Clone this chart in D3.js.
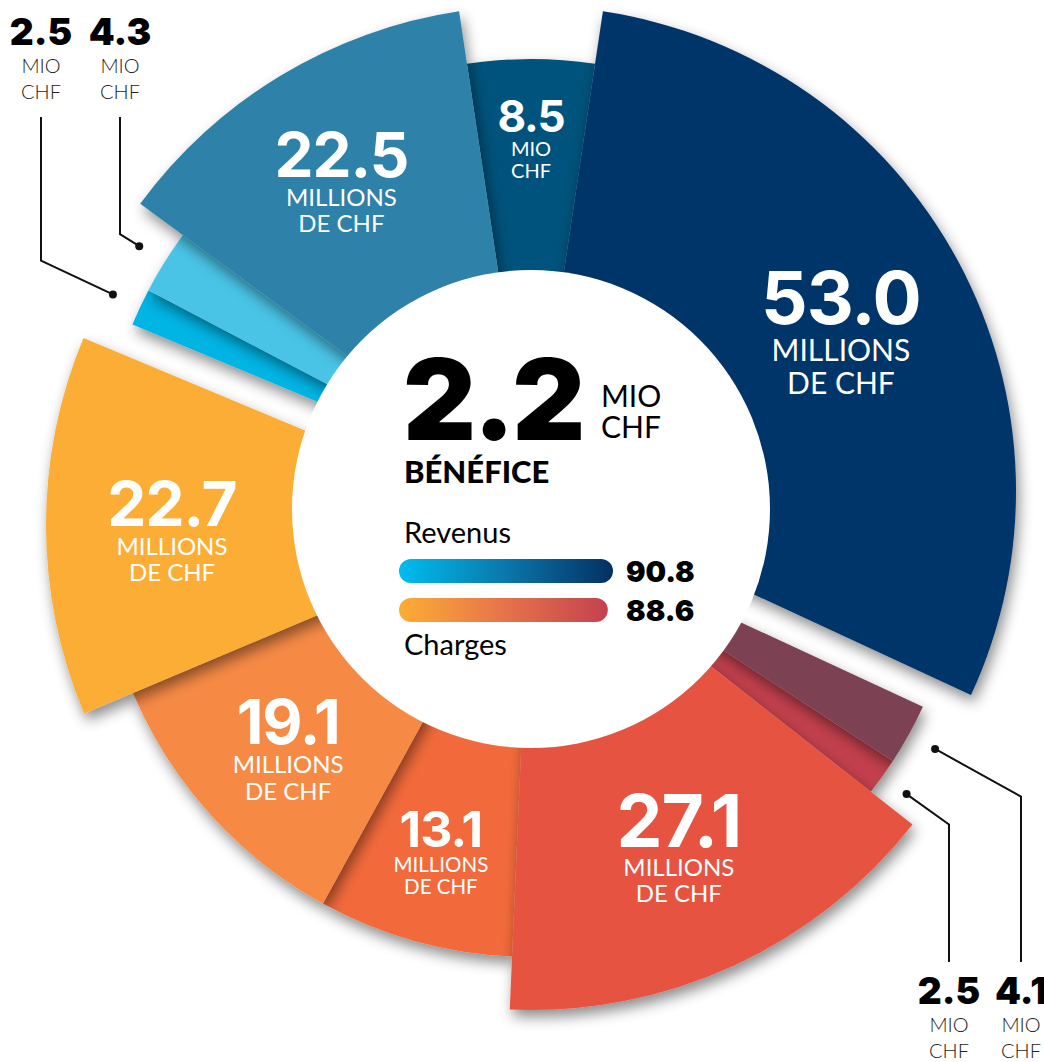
<!DOCTYPE html>
<html>
<head>
<meta charset="utf-8">
<script src="https://cdn.jsdelivr.net/npm/d3@7"></script>
<style>
body { margin: 0; background: #fff; }
svg { display: block; }
</style>
</head>
<body>
<script>
// slices clockwise, starting with the one at 12 o'clock
const values = [8.5, 53.0, 4.1, 2.5, 27.1, 13.1, 19.1, 22.7, 2.5, 4.3, 22.5];
const groups = ["rev", "rev", "chg", "chg", "chg", "chg", "chg", "chg", "rev", "rev", "rev"];
const colors = ["#04527c", "#04356a", "#7b4352", "#c2404d", "#e6533f", "#f26a3a",
                "#f68a45", "#fcad35", "#00b4e4", "#48c4e6", "#2e81a9"];
const totalNames = ["Revenus", "Charges"];
const totals = [90.8, 88.6];
const profit = 2.2;

const W = 1044, H = 1062;
const cx = 531, cy = 509, holeR = 239;
// revenue half pushed up, charges half pushed down
const shift = {rev: -18, chg: 16};
// small slices are labelled outside, at these columns
const calloutX = {2: 1021, 3: 949, 8: 41, 9: 120};
const labelR = [359, 352, 0, 0, 354, 334, 327, 359, 0, 0, 367];

const fontFam = "Lato, 'Open Sans', sans-serif";
const numFam = "Inter, Lato, sans-serif";
const fmt = d3.format(".1f");
const total = d3.sum(values);

let svg = d3.select("body").append("svg")
    .attr("width", W)
    .attr("height", H)
    .attr("viewBox", `0 0 ${W} ${H}`);

let defs = svg.append("defs");
let f = defs.append("filter").attr("id", "shadow")
    .attr("x", "-30%").attr("y", "-30%").attr("width", "160%").attr("height", "160%");
f.append("feDropShadow")
    .attr("dx", 3).attr("dy", 7)
    .attr("stdDeviation", 7)
    .attr("flood-color", "#000")
    .attr("flood-opacity", 0.45);

function barGrad(id, stops) {
    let g = defs.append("linearGradient").attr("id", id)
        .attr("x1", "0%").attr("x2", "100%").attr("y1", "0%").attr("y2", "0%");
    stops.forEach((c, i) => g.append("stop")
        .attr("offset", (i / (stops.length - 1) * 100) + "%")
        .attr("stop-color", c));
}
barGrad("gradRev", ["#00bdf0", "#0a77aa", "#043062"]);
barGrad("gradChg", ["#fcad35", "#e6744a", "#c4414f"]);

// scales
const outerR = d3.scaleThreshold().domain([20]).range([432, 485]);
const numSize = d3.scaleThreshold().domain([10, 15, 25]).range([44, 50, 62, 73]);
const subSize = d3.scaleThreshold().domain([10, 15, 40]).range([20, 20.5, 24, 30]);

const pie = d3.pie()
    .sort(null)
    .value(d => d)
    .startAngle(-values[0] / total * Math.PI)
    .endAngle(2 * Math.PI - values[0] / total * Math.PI);

const arcs = pie(values).map((d, i) => Object.assign(d, {
    i: i,
    group: groups[i],
    color: colors[i],
    ox: cx,
    oy: cy + shift[groups[i]]
}));

const arc = d3.arc()
    .innerRadius(0)
    .outerRadius(d => outerR(d.value));

// draw the smallest first so bigger ones cast their shadow on them
let order = arcs.slice().sort((a, b) => a.value - b.value);

svg.append("g").selectAll("path")
    .data(order)
    .enter()
    .append("path")
    .attr("transform", d => `translate(${d.ox},${d.oy})`)
    .attr("d", arc)
    .attr("fill", d => d.color)
    .attr("filter", "url(#shadow)");

// white middle
svg.append("circle")
    .attr("cx", cx).attr("cy", cy).attr("r", holeR)
    .attr("fill", "#fff");

// labels inside the slices
const mid = d => (d.startAngle + d.endAngle) / 2;
let inner = svg.append("g").selectAll("g")
    .data(arcs.filter(d => d.value >= 5))
    .enter()
    .append("g")
    .attr("transform", d => {
        let a = mid(d), r = labelR[d.i];
        return `translate(${d.ox + r * Math.sin(a)},${d.oy - r * Math.cos(a)})`;
    })
    .attr("fill", "#fff")
    .attr("text-anchor", "middle")
    .style("font-family", fontFam);

inner.append("text")
    .text(d => fmt(d.value))
    .style("font-family", numFam)
    .style("font-size", d => numSize(d.value) + "px")
    .style("font-weight", 700)
    .style("letter-spacing", "-1px");

inner.each(function(d) {
    let lines = d.value < 10 ? ["MIO", "CHF"] : ["MILLIONS", "DE CHF"];
    let s = subSize(d.value);
    d3.select(this).selectAll("text.sub")
        .data(lines)
        .enter()
        .append("text")
        .attr("class", "sub")
        .attr("y", (t, k) => s * 1.22 + k * s * 1.1)
        .style("font-size", s + "px")
        .style("font-weight", 400)
        .text(t => t);
});

// callouts for the thin slices
let small = arcs.filter(d => d.value < 5);
small.forEach(d => {
    let a = mid(d);
    let sx = Math.sin(a), sy = -Math.cos(a);
    let rd = outerR(d.value) + 30;
    let px = d.ox + rd * sx, py = d.oy + rd * sy;
    let lx = calloutX[d.i];
    let ey = py + (lx - px) * sy / sx;
    let top = d.group === "rev";
    let endY = top ? 117 : 962;

    svg.append("path")
        .attr("d", d3.line()([[px, py], [lx, ey], [lx, endY]]))
        .attr("fill", "none")
        .attr("stroke", "#111")
        .attr("stroke-width", 2);
    svg.append("circle")
        .attr("cx", px).attr("cy", py).attr("r", 4)
        .attr("fill", "#111");

    let ty = top ? 45 : 1004;
    let t = svg.append("g")
        .attr("text-anchor", "middle")
        .style("font-family", fontFam);
    t.append("text")
        .attr("x", lx).attr("y", ty)
        .style("font-family", numFam)
        .style("font-size", "37px")
        .style("font-weight", 900)
        .attr("fill", "#000")
        .text(fmt(d.value));
    ["MIO", "CHF"].forEach((s, k) => t.append("text")
        .attr("x", lx).attr("y", ty + 28 + k * 26)
        .style("font-size", "20px")
        .style("font-weight", 300)
        .attr("fill", "#222")
        .text(s));
});

// centre block
let c = svg.append("g").style("font-family", fontFam).attr("fill", "#000");
c.append("text")
    .attr("x", 403).attr("y", 440)
    .style("font-family", numFam)
    .style("font-size", "113px")
    .style("font-weight", 900)
    .style("letter-spacing", "-3px")
    .text(profit.toFixed(1));
c.append("text").attr("x", 601).attr("y", 407)
    .style("font-size", "30px").style("font-weight", 400).text("MIO");
c.append("text").attr("x", 601).attr("y", 438)
    .style("font-size", "30px").style("font-weight", 400).text("CHF");
c.append("text").attr("x", 404).attr("y", 483)
    .style("font-size", "31px").style("font-weight", 900).text("BÉNÉFICE");

const barX = d3.scaleLinear().domain([0, totals[0]]).range([0, 214]);
const barY = [559, 598];
const grads = ["url(#gradRev)", "url(#gradChg)"];

c.selectAll("rect.bar")
    .data(totals)
    .enter()
    .append("rect")
    .attr("class", "bar")
    .attr("x", 399)
    .attr("y", (d, i) => barY[i])
    .attr("width", d => barX(d))
    .attr("height", 24)
    .attr("rx", 12)
    .attr("fill", (d, i) => grads[i]);

c.selectAll("text.total")
    .data(totals)
    .enter()
    .append("text")
    .attr("class", "total")
    .attr("x", 626)
    .attr("y", (d, i) => barY[i] + 23)
    .style("font-family", numFam)
    .style("font-size", "29px")
    .style("font-weight", 900)
    .text(d => fmt(d));

c.append("text").attr("x", 404).attr("y", 543)
    .style("font-size", "29px").style("font-weight", 400).text(totalNames[0]);
c.append("text").attr("x", 404).attr("y", 655)
    .style("font-size", "29px").style("font-weight", 400).text(totalNames[1]);
</script>
</body>
</html>
